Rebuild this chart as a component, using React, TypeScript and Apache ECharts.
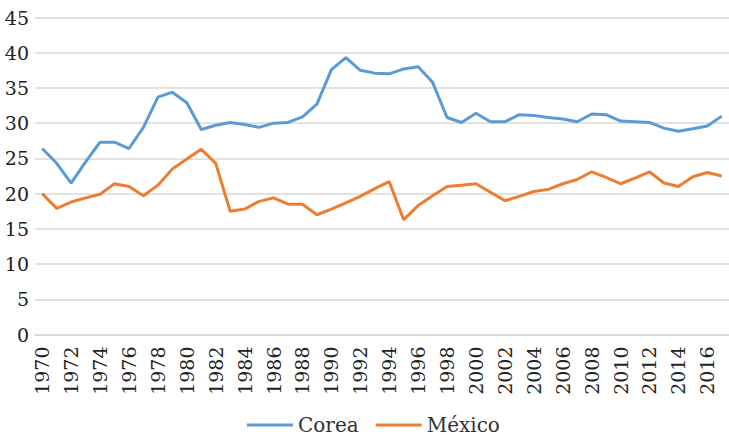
import React, { useEffect, useRef } from "react";
import * as echarts from "echarts";

const years: string[] = [];
for (let y = 1970; y <= 2017; y++) years.push(String(y));

const corea: number[] = [
  26.4, 24.3, 21.5, 24.5, 27.3, 27.3, 26.4, 29.4, 33.7, 34.4,
  32.9, 29.1, 29.7, 30.1, 29.8, 29.4, 30.0, 30.1, 30.9, 32.7,
  37.6, 39.3, 37.5, 37.1, 37.0, 37.7, 38.0, 35.8, 30.8, 30.1,
  31.4, 30.2, 30.2, 31.2, 31.1, 30.8, 30.6, 30.2, 31.3, 31.2,
  30.3, 30.2, 30.1, 29.3, 28.85, 29.2, 29.6, 31.0,
];

const mexico: number[] = [
  20.0, 17.9, 18.8, 19.4, 19.9, 21.4, 21.0, 19.7, 21.2, 23.5,
  24.9, 26.3, 24.3, 17.5, 17.8, 18.9, 19.4, 18.5, 18.5, 17.0,
  17.8, 18.7, 19.6, 20.7, 21.7, 16.3, 18.3, 19.7, 21.0, 21.2,
  21.4, 20.2, 19.0, 19.6, 20.3, 20.6, 21.4, 22.0, 23.1, 22.3,
  21.4, 22.2, 23.1, 21.5, 21.0, 22.4, 23.0, 22.5,
];

const seriesNames = ["Corea", "México"];
const FONT = "DejaVu Serif";

export default function App() {
  const ref = useRef<HTMLDivElement>(null);
  useEffect(() => {
    if (!ref.current) return;
    const chart = echarts.init(ref.current, undefined, { renderer: "svg" });
    chart.setOption({
      animation: false,
      backgroundColor: "#ffffff",
      textStyle: { fontFamily: FONT },
      grid: { left: 35, top: 17.5, right: -7, bottom: 104.5, containLabel: false },
      legend: {
        data: seriesNames,
        left: 247,
        top: 414,
        padding: 0,
        icon: "rect",
        itemWidth: 46,
        itemHeight: 3,
        itemGap: 17,
        textStyle: { fontFamily: FONT, fontSize: 20, color: "#333333", lineHeight: 22 },
      },
      xAxis: {
        type: "category",
        data: years,
        boundaryGap: true,
        axisLine: { show: true, lineStyle: { color: "#d9d9d9", width: 1.5 } },
        axisTick: { show: false },
        axisLabel: {
          interval: 1,
          rotate: 90,
          margin: 12,
          fontFamily: FONT,
          fontSize: 19,
          color: "#222222",
        },
        splitLine: { show: false },
      },
      yAxis: {
        type: "value",
        min: 0,
        max: 45,
        interval: 5,
        axisLine: { show: false },
        axisTick: { show: false },
        axisLabel: { margin: 6, fontFamily: FONT, fontSize: 19, color: "#222222" },
        splitLine: { lineStyle: { color: "#d9d9d9", width: 1.5 } },
      },
      series: [
        {
          name: seriesNames[0],
          type: "line",
          data: corea,
          symbol: "none",
          lineStyle: { color: "#5b9bd5", width: 3 },
          itemStyle: { color: "#5b9bd5" },
        },
        {
          name: seriesNames[1],
          type: "line",
          data: mexico,
          symbol: "none",
          lineStyle: { color: "#ed7d31", width: 3 },
          itemStyle: { color: "#ed7d31" },
        },
      ],
    });
    return () => chart.dispose();
  }, []);
  return (
    <div
      ref={ref}
      style={{ position: "fixed", left: 0, top: 0, width: 729, height: 439, background: "#fff" }}
    />
  );
}
